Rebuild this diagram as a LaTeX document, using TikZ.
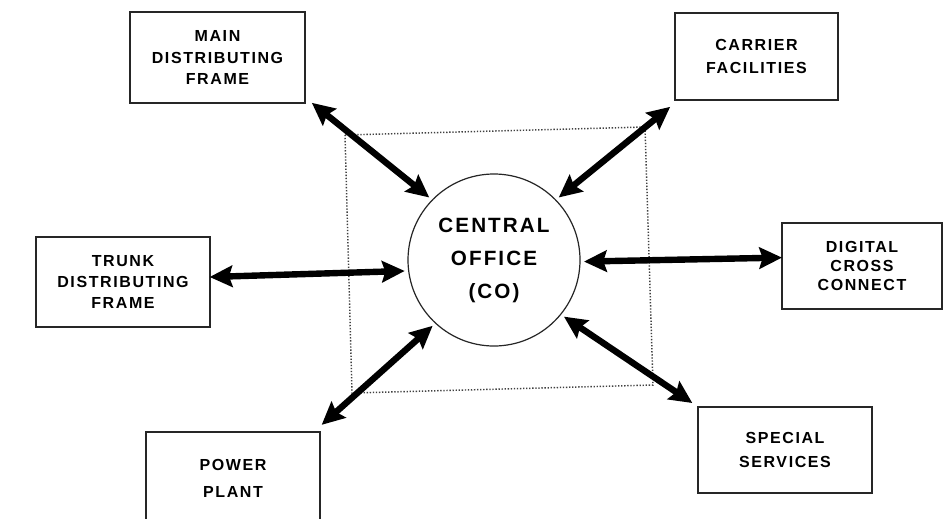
\documentclass[tikz,border=0pt]{standalone}
\usepackage{fontspec}
\newfontfamily\lblfont{Liberation Sans}[LetterSpace=10]
\usetikzlibrary{arrows.meta}
\begin{document}
\begin{tikzpicture}[x=0.75pt,y=-0.75pt,
  boxnode/.style={draw=black!85,line width=1.3pt,rectangle,inner sep=0pt,outer sep=0pt,align=center,
    font=\lblfont\bfseries\fontsize{12}{16}\selectfont},
  conode/.style={draw=black!85,line width=0.9pt,circle,minimum size=129pt,inner sep=0pt,outer sep=3pt,align=center,
    font=\lblfont\bfseries\fontsize{15.5}{24.75}\selectfont},
  biarrow/.style={line width=4.8pt,{Stealth[length=17pt,width=16pt,inset=2.5pt]}-{Stealth[length=17pt,width=16pt,inset=2.5pt]}},
  frameline/.style={black!75,line width=1.1pt,dash pattern=on 1pt off 1.3pt}]
\useasboundingbox (0,0) rectangle (944,518);
\clip (0,0) rectangle (944,518);
\fill[white] (0,0) rectangle (944,518);
% dotted frame
\draw[frameline] (345,135) -- (645,127) -- (653,385) -- (352,393) -- cycle;
% central office
\node[conode] (co) at (494,260) {CENTRAL\\OFFICE\\(CO)};
% boxes
\node[boxnode,minimum width=131pt,minimum height=68pt] (mdf) at (217.5,57.5) {MAIN\\DISTRIBUTING\\FRAME};
\node[boxnode,minimum width=122pt,minimum height=65pt] (car) at (756.5,56.5) {CARRIER\\[1pt]FACILITIES};
\node[boxnode,minimum width=130pt,minimum height=67.5pt] (trk) at (123,282) {TRUNK\\DISTRIBUTING\\FRAME};
\node[boxnode,minimum width=120pt,minimum height=64.5pt,font=\lblfont\bfseries\fontsize{12}{14}\selectfont] (dcc) at (862,266) {DIGITAL\\CROSS\\CONNECT};
\node[boxnode,minimum width=130pt,minimum height=70pt,font=\lblfont\bfseries\fontsize{12}{20}\selectfont] (pow) at (233,478.5) {POWER\\PLANT};
\node[boxnode,minimum width=130pt,minimum height=64.5pt,font=\lblfont\bfseries\fontsize{12}{18}\selectfont] (spc) at (785,450) {SPECIAL\\SERVICES};
% arrows
\draw[biarrow] ([shift={(7,0)}]mdf.south east) -- (co.136);
\draw[biarrow] ([shift={(-5,7)}]car.south west) -- (co.44.5);
\draw[biarrow] ([shift={(0,-5)}]trk.east) -- (co.187);
\draw[biarrow] (co.-1.3) -- (dcc.174);
\draw[biarrow] ([shift={(2,-7)}]pow.north east) -- (co.227.5);
\draw[biarrow] (co.-39.7) -- ([shift={(-6,-4)}]spc.north west);
\end{tikzpicture}
\end{document}
